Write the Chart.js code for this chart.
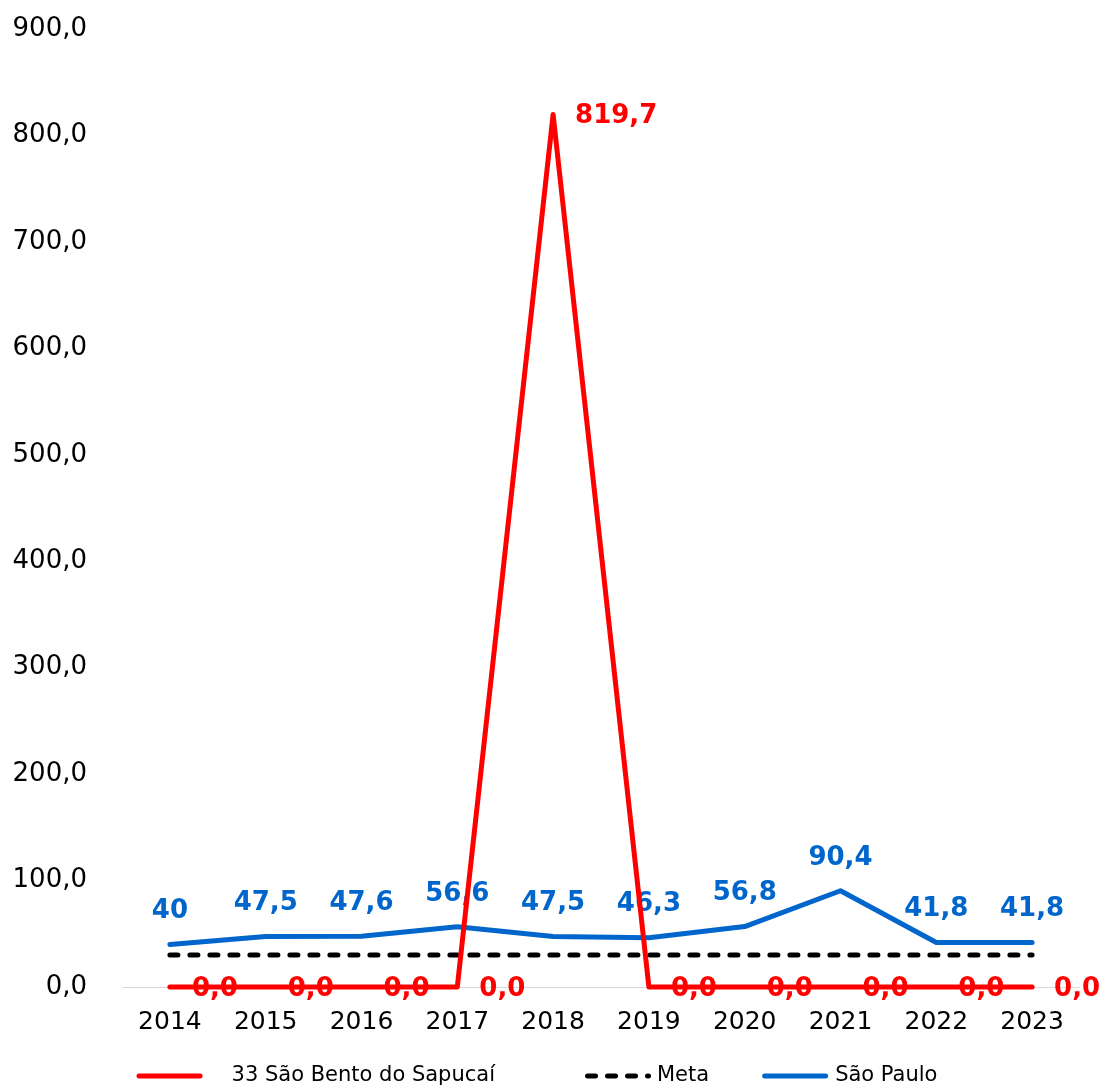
<!DOCTYPE html>
<html><head><meta charset="utf-8">
<script src="https://cdn.jsdelivr.net/npm/chart.js@4.4.1/dist/chart.umd.min.js"></script>
<style>html,body{margin:0;padding:0;background:#fff}#wrap{width:1103px;height:1088px;position:relative}</style>
</head><body><div id="wrap"><canvas id="c"></canvas></div>
<script>
const categories = ['2014','2015','2016','2017','2018','2019','2020','2021','2022','2023'];
const seriesMunicipio = [0,0,0,0,819.7,0,0,0,0,0];
const seriesMeta = [30,30,30,30,30,30,30,30,30,30];
const seriesSaoPaulo = [40,47.5,47.6,56.6,47.5,46.3,56.8,90.4,41.8,41.8];
const yTickValues = [0,100,200,300,400,500,600,700,800,900];
const seriesNames = ['33 São Bento do Sapucaí','Meta','São Paulo'];

const FONT = '"DejaVu Sans", Verdana, sans-serif';

const labelPlugin = {
  id: 'valueLabels',
  afterDatasetDraw(chart, args) {
    const ds = chart.data.datasets[args.index];
    if (!ds.labelMode) return;
    const ctx = chart.ctx;
    ctx.save();
    ctx.font = 'bold 26px ' + FONT;
    ctx.fillStyle = ds.borderColor;
    args.meta.data.forEach((pt, i) => {
      const v = ds.data[i];
      if (ds.labelMode === 'right') {
        ctx.textAlign = 'left'; ctx.textBaseline = 'middle';
        ctx.fillText(v.toFixed(1).replace('.', ','), pt.x + 22, pt.y + 2);
      } else {
        ctx.textAlign = 'center'; ctx.textBaseline = 'middle';
        ctx.fillText(String(v).replace('.', ','), pt.x, pt.y - 33);
      }
    });
    ctx.restore();
  }
};

// legend drawn to mimic the original spacing
const legendPlugin = {
  id: 'customLegend',
  afterDraw(chart) {
    const ctx = chart.ctx;
    const sampleW = 66;
    const textGap = [29, 6, 7];
    const itemGap = [90, 53, 0];
    ctx.save();
    ctx.font = '21px ' + FONT;
    const widths = chart.data.datasets.map(d => ctx.measureText(d.label).width);
    let total = 0;
    widths.forEach((w, i) => { total += sampleW + textGap[i] + w + itemGap[i]; });
    let x = 537 - total / 2;
    const y = 1076;
    chart.data.datasets.forEach((d, i) => {
      ctx.beginPath();
      ctx.strokeStyle = d.borderColor;
      ctx.lineWidth = 5;
      ctx.lineCap = 'round';
      ctx.setLineDash(d.borderDash || []);
      ctx.moveTo(x + 2.5, y);
      ctx.lineTo(x + sampleW - 2.5, y);
      ctx.stroke();
      ctx.setLineDash([]);
      ctx.fillStyle = '#000';
      ctx.textAlign = 'left';
      ctx.textBaseline = 'middle';
      ctx.fillText(d.label, x + sampleW + textGap[i], y);
      x += sampleW + textGap[i] + widths[i] + itemGap[i];
    });
    ctx.restore();
  }
};

new Chart(document.getElementById('c'), {
  type: 'line',
  data: {
    labels: categories,
    datasets: [
      { label: seriesNames[0], data: seriesMunicipio, borderColor: '#ff0000', backgroundColor: '#ff0000',
        borderWidth: 5, pointRadius: 0, tension: 0, borderCapStyle: 'round', borderJoinStyle: 'round',
        order: 0, clip: false, labelMode: 'right' },
      { label: seriesNames[1], data: seriesMeta, borderColor: '#000000', backgroundColor: '#000000',
        borderWidth: 5, pointRadius: 0, tension: 0, borderDash: [8, 12], borderCapStyle: 'round',
        order: 1, clip: false },
      { label: seriesNames[2], data: seriesSaoPaulo, borderColor: '#0066cc', backgroundColor: '#0066cc',
        borderWidth: 5, pointRadius: 0, tension: 0, borderCapStyle: 'round', borderJoinStyle: 'round',
        order: 2, clip: false, labelMode: 'above' }
    ]
  },
  options: {
    responsive: true,
    maintainAspectRatio: false,
    animation: false,
    layout: { padding: { top: 29, right: 23, left: 12, bottom: 51 } },
    plugins: {
      legend: { display: false },
      tooltip: { enabled: false }
    },
    scales: {
      x: {
        offset: true,
        grid: { display: false, drawTicks: false },
        border: { display: false },
        ticks: { font: { family: FONT, size: 25 }, color: '#000', padding: 20 },
        afterFit(s) { s.height = 50; s.paddingLeft = 0; s.paddingRight = 0; }
      },
      y: {
        min: 0, max: 900,
        afterBuildTicks(scale) { scale.ticks = yTickValues.map(v => ({ value: v })); },
        grid: { drawTicks: false, color: ctx => (ctx.tick && ctx.tick.value === 0) ? '#d9d9d9' : 'rgba(0,0,0,0)', lineWidth: 1 },
        border: { display: false },
        ticks: { font: { family: FONT, size: 26 }, color: '#000', padding: 35,
          callback: v => Number(v).toFixed(1).replace('.', ',') },
        afterFit(s) { s.width = 110; s.paddingTop = 0; s.paddingBottom = 0; }
      }
    }
  },
  plugins: [labelPlugin, legendPlugin]
});
</script>
</body></html>
